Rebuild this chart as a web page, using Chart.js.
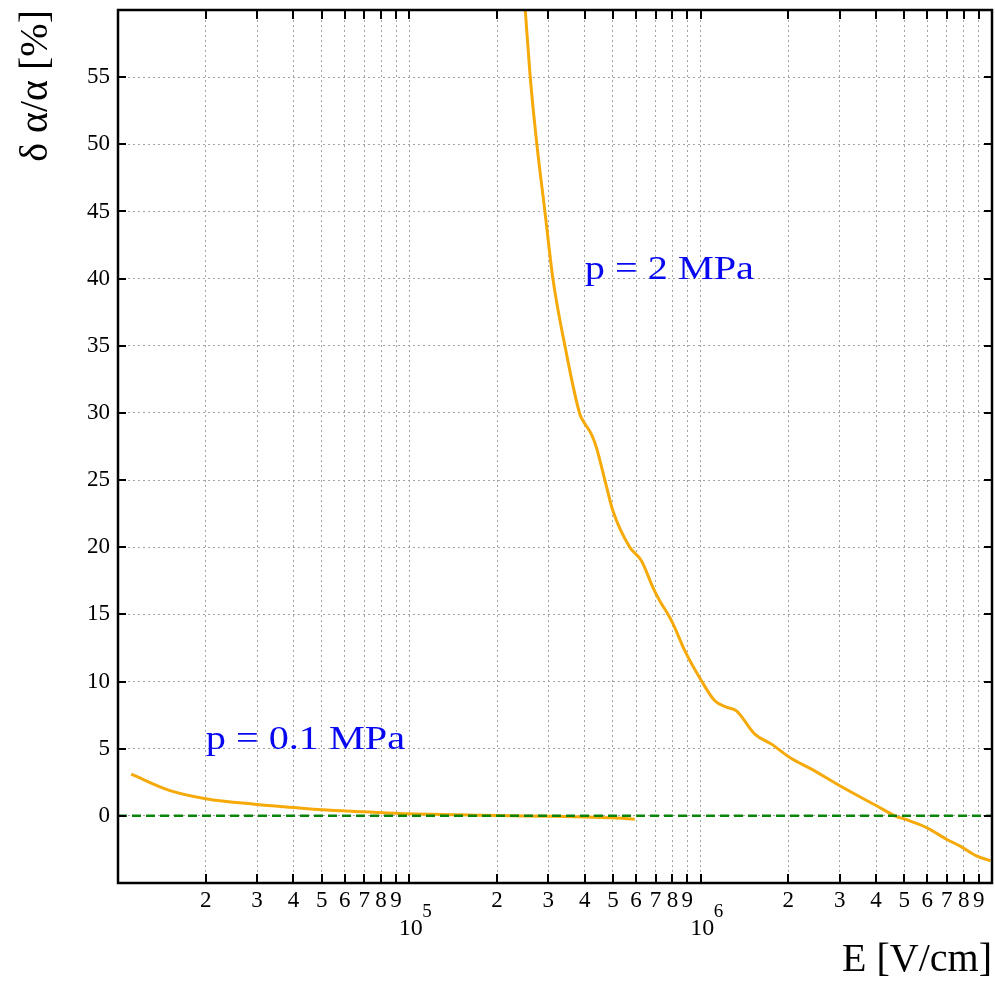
<!DOCTYPE html>
<html>
<head>
<meta charset="utf-8">
<script src="https://cdn.jsdelivr.net/npm/chart.js@4"></script>
<style>
  html, body { margin: 0; padding: 0; background: #fff; }
</style>
</head>
<body>
<canvas id="chart" width="995" height="984"></canvas>
<script>
// E [V/cm] against relative change of alpha [%]
const lowPressureE = [1.11e4, 1.5e4, 2e4, 3e4, 4e4, 5e4, 7e4, 1e5, 1.5e5, 2e5, 3e5, 4e5, 5e5, 5.94e5];
const lowPressureDelta = [3.1, 1.9, 1.28, 0.85, 0.62, 0.45, 0.3, 0.15, 0.08, 0.02, -0.03, -0.08, -0.15, -0.25];

const highPressureE = [2.50e5, 2.60e5, 2.74e5, 2.92e5, 3.11e5, 3.42e5, 3.85e5, 3.95e5, 4.22e5, 4.39e5,
  4.69e5, 5.00e5, 5.71e5, 6.26e5, 6.86e5, 7.24e5, 7.73e5, 8.04e5, 8.82e5, 1.006e6, 1.118e6, 1.226e6, 1.327e6,
  1.534e6, 1.751e6, 2.022e6, 2.401e6, 3.003e6, 4.013e6, 4.70e6, 5.02e6, 5.96e6, 6.98e6, 7.75e6, 8.85e6, 9.88e6];
const highPressureDelta = [60, 55, 50, 45, 40, 35, 29.9, 29.4, 28.4, 27.4,
  25, 22.7, 20, 19, 17, 16, 15, 14.3, 12.3, 10.06, 8.57, 8.1, 7.82,
  6.09, 5.34, 4.34, 3.48, 2.24, 0.75, -0.05, -0.25, -0.87, -1.74, -2.24, -2.98, -3.35];

const zeroLevel = 0;

const xMin = 1e4, xMax = 1e7;
const xDecades = [1e4, 1e5, 1e6];
const xMantissas = [1, 2, 3, 4, 5, 6, 7, 8, 9];
const yMin = -5, yMax = 60, yStep = 5;

const annotationTexts = ['p = 0.1 MPa', 'p = 2 MPa'];
const annotationE = [2e4, 4e5];
const annotationDelta = [5, 40];

const xTickValues = [];
xDecades.forEach(d => xMantissas.forEach(m => xTickValues.push(m * d)));
xTickValues.push(xMax);

const serif = '"Liberation Serif", "Times New Roman", serif';
const orange = '#f5aa0a';

function toPoints(xs, ys) {
  return xs.map((v, i) => ({x: v, y: ys[i]}));
}

const framePlugin = {
  id: 'frame',
  afterDraw(chart) {
    const {ctx, chartArea: a, scales: {x, y}} = chart;
    ctx.save();
    ctx.strokeStyle = '#000';
    ctx.lineWidth = 2;
    ctx.beginPath();
    xTickValues.forEach(v => {
      if (v <= xMin || v >= xMax) return;
      const px = Math.round(x.getPixelForValue(v));
      ctx.moveTo(px, a.bottom); ctx.lineTo(px, a.bottom - 9);
      ctx.moveTo(px, a.top); ctx.lineTo(px, a.top + 9);
    });
    y.ticks.forEach(t => {
      if (t.value <= yMin || t.value >= yMax) return;
      const py = Math.round(y.getPixelForValue(t.value));
      ctx.moveTo(a.left, py); ctx.lineTo(a.left + 8, py);
      ctx.moveTo(a.right, py); ctx.lineTo(a.right - 8, py);
    });
    ctx.stroke();
    ctx.lineWidth = 2.5;
    ctx.strokeRect(a.left, a.top, a.right - a.left, a.bottom - a.top);

    // decade labels 10^n
    ctx.fillStyle = '#000';
    xTickValues.forEach(v => {
      if (v <= xMin || v >= xMax) return;
      const exp = Math.round(Math.log10(v));
      if (Math.abs(v - Math.pow(10, exp)) > 1e-6 * v) return;
      const px = x.getPixelForValue(v);
      ctx.font = '24px ' + serif;
      ctx.textAlign = 'center';
      ctx.textBaseline = 'alphabetic';
      ctx.fillText('10', px + 1.5, a.bottom + 52);
      ctx.font = '19px ' + serif;
      ctx.textAlign = 'left';
      ctx.fillText(String(exp), px + 13, a.bottom + 34);
    });
    ctx.restore();
  }
};

const labelPlugin = {
  id: 'pressureLabels',
  afterDatasetsDraw(chart) {
    const {ctx, scales: {x, y}} = chart;
    ctx.save();
    ctx.fillStyle = '#0808f0';
    ctx.font = '33px ' + serif;
    ctx.textAlign = 'left';
    ctx.textBaseline = 'alphabetic';
    annotationTexts.forEach((t, i) => {
      ctx.save();
      ctx.translate(x.getPixelForValue(annotationE[i]), y.getPixelForValue(annotationDelta[i]));
      ctx.scale(1.22, 1);
      ctx.fillText(t, 0, 0);
      ctx.restore();
    });
    ctx.restore();
  }
};

new Chart(document.getElementById('chart'), {
  type: 'line',
  data: {
    datasets: [
      {
        data: [{x: xMin, y: zeroLevel}, {x: xMax, y: zeroLevel}],
        borderColor: '#0b840b',
        borderWidth: 2.5,
        borderDash: [9, 5],
        pointRadius: 0,
        order: 0
      },
      {
        data: toPoints(lowPressureE, lowPressureDelta),
        borderColor: orange,
        borderWidth: 3,
        pointRadius: 0,
        cubicInterpolationMode: 'monotone',
        order: 1
      },
      {
        data: toPoints(highPressureE, highPressureDelta),
        borderColor: orange,
        borderWidth: 3,
        pointRadius: 0,
        cubicInterpolationMode: 'monotone',
        order: 1
      }
    ]
  },
  options: {
    responsive: false,
    animation: false,
    devicePixelRatio: 1,
    layout: {padding: {top: 10, right: 3, left: 0, bottom: 0}},
    plugins: {legend: {display: false}, tooltip: {enabled: false}},
    scales: {
      x: {
        type: 'logarithmic',
        min: xMin,
        max: xMax,
        afterBuildTicks: scale => { scale.ticks = xTickValues.map(v => ({value: v})); },
        afterFit: scale => {
          scale.height = 101;
          scale.paddingLeft = 0;
          scale.paddingRight = 0;
        },
        grid: {color: '#a4a4a4', lineWidth: 1, drawTicks: false},
        border: {display: false, dash: [2, 3]},
        ticks: {
          autoSkip: false,
          maxRotation: 0,
          padding: 4,
          color: '#000',
          font: {family: serif, size: 23},
          callback: value => {
            const exp = Math.floor(Math.log10(value) + 1e-9);
            const m = Math.round(value / Math.pow(10, exp));
            return m === 1 ? '' : String(m);
          }
        },
        title: {
          display: true,
          text: 'E [V/cm]',
          align: 'end',
          color: '#000',
          font: {family: serif, size: 40},
          padding: {top: 0, bottom: 0}
        }
      },
      y: {
        type: 'linear',
        min: yMin,
        max: yMax,
        afterFit: scale => {
          scale.width = 118;
          scale.paddingTop = 0;
          scale.paddingBottom = 0;
        },
        grid: {color: '#a4a4a4', lineWidth: 1, drawTicks: false},
        border: {display: false, dash: [2, 3]},
        ticks: {
          stepSize: yStep,
          padding: 8,
          color: '#000',
          font: {family: serif, size: 23},
          callback: value => (value <= yMin || value >= yMax) ? '' : String(value)
        },
        title: {
          display: true,
          text: 'δ α/α [%]',
          align: 'end',
          color: '#000',
          font: {family: serif, size: 40},
          padding: {top: 12, bottom: 0}
        }
      }
    }
  },
  plugins: [framePlugin, labelPlugin]
});
</script>
</body>
</html>
